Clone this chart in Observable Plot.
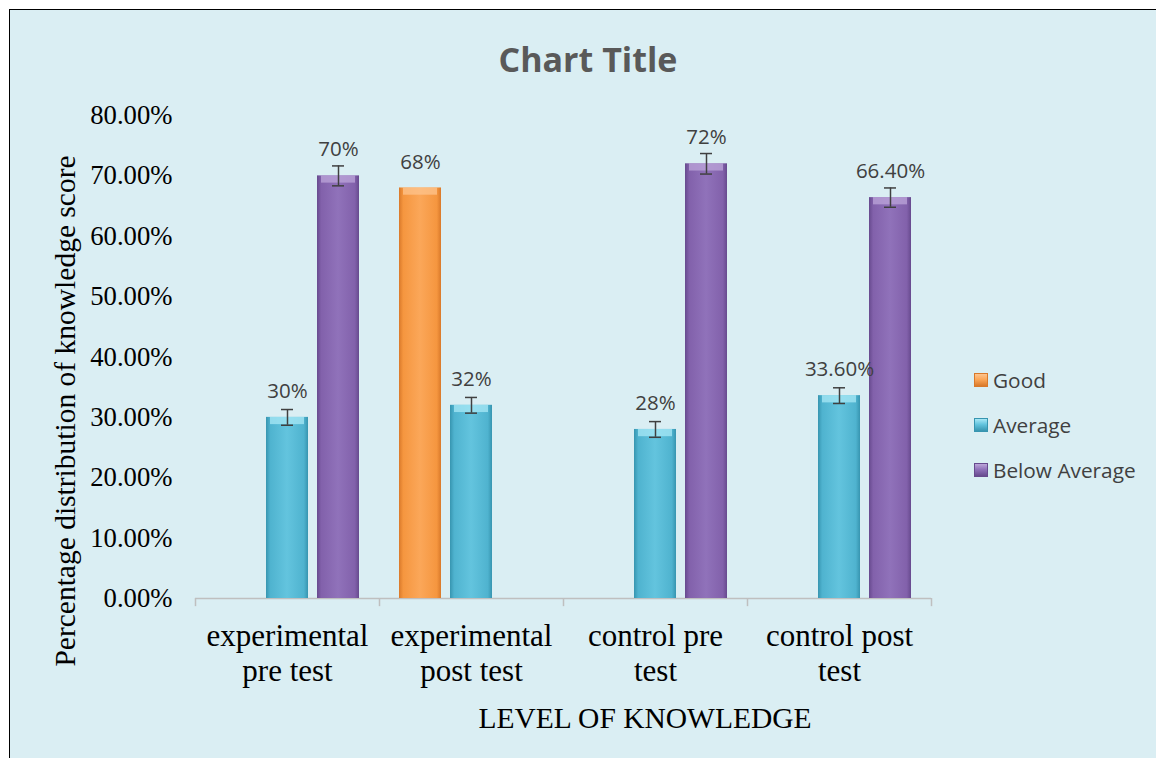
<!DOCTYPE html>
<html>
<head>
<meta charset="utf-8">
<script src="https://cdn.jsdelivr.net/npm/d3@7"></script>
<script src="https://cdn.jsdelivr.net/npm/@observablehq/plot@0.6"></script>
<style>
  html, body { margin: 0; padding: 0; overflow: hidden; background: #fff; }
  #frame { position: absolute; left: 9px; top: 9px; width: 1160px; height: 760px; box-sizing: border-box;
           border: 1.5px solid #000; background: #DAEEF3; }
  #plot { position: absolute; left: 0; top: 0; }
  .title { position: absolute; left: 588px; top: 59px; transform: translate(-50%, -50%);
           font-family: "Open Sans", sans-serif; font-weight: 700; font-size: 34px; color: #595959; white-space: nowrap; }
  .ytitle { position: absolute; left: 65px; top: 411px; transform: translate(-50%, -50%) rotate(-90deg);
            font-family: "Liberation Serif", serif; font-size: 29.5px; color: #000; white-space: nowrap; }
  .xtitle { position: absolute; left: 645px; top: 718px; transform: translate(-50%, -50%);
            font-family: "Liberation Serif", serif; font-size: 29.5px; color: #000; white-space: nowrap; }
  .legend { position: absolute; left: 974px; top: 0; font-family: "Open Sans", sans-serif; font-size: 20.8px; color: #404040; }
  .legend .row { position: absolute; left: 0; white-space: nowrap; display: flex; align-items: center; transform: translateY(-50%); }
  .legend .sw { width: 14px; height: 14px; margin-right: 5px; box-sizing: border-box; }
</style>
</head>
<body>
<div id="frame"></div>
<div id="plot"></div>
<div class="title">Chart Title</div>
<div class="ytitle">Percentage distribution of knowledge score</div>
<div class="xtitle">LEVEL OF KNOWLEDGE</div>
<div class="legend" id="legend"></div>
<script>
// ---- data ----
const categories = ["experimental pre test", "experimental post test", "control pre test", "control post test"];
const categoryTickLabels = ["experimental\npre test", "experimental\npost test", "control pre\ntest", "control post\ntest"];
const series = ["Good", "Average", "Below Average"];
const good = [null, 68, null, null];
const average = [30, 32, 28, 33.6];
const belowAverage = [70, null, 72, 66.4];
const goodErr = [null, null, null, null];
const averageErr = [1.3, 1.3, 1.3, 1.3];
const belowAverageErr = [1.65, null, 1.7, 1.6];
const goodLabels = [null, "68%", null, null];
const averageLabels = ["30%", "32%", "28%", "33.60%"];
const belowAverageLabels = ["70%", null, "72%", "66.40%"];
const yTicks = [0, 10, 20, 30, 40, 50, 60, 70, 80];

// ---- styles ----
const gradIds = {"Good": "gGood", "Average": "gAvg", "Below Average": "gBelow"};
const gradStops = {
  "Good": ["#D9792A", "#F5963F", "#FBA759", "#F5963F", "#D9792A"],
  "Average": ["#3795B0", "#4FB3CF", "#63C4DE", "#4FB3CF", "#3795B0"],
  "Below Average": ["#674A8E", "#8261AB", "#9072BA", "#8261AB", "#674A8E"]
};
const bevelColors = {"Good": "#FDC48E", "Average": "#A8E8F6", "Below Average": "#BCA6D9"};
const bevel = 1.2;

const valuesBySeries = {"Good": good, "Average": average, "Below Average": belowAverage};
const errBySeries = {"Good": goodErr, "Average": averageErr, "Below Average": belowAverageErr};
const labelsBySeries = {"Good": goodLabels, "Average": averageLabels, "Below Average": belowAverageLabels};

const rows = [];
categories.forEach((c, i) => {
  series.forEach(s => {
    const v = valuesBySeries[s][i];
    if (v != null) rows.push({category: c, series: s, value: v, err: errBySeries[s][i], label: labelsBySeries[s][i]});
  });
});
const errRows = rows.filter(d => d.err != null);
const tickLabelOf = Object.fromEntries(categories.map((c, i) => [c, categoryTickLabels[i]]));

const serif = "Liberation Serif, Times New Roman, serif";
const lineColor = "#BFBFBF";

const plot = Plot.plot({
  width: 1156,
  height: 758,
  marginLeft: 195,
  marginRight: 225,
  marginTop: 115,
  marginBottom: 160,
  style: {background: "transparent", color: "#000", overflow: "visible"},
  fx: {domain: categories, padding: 0, axis: null},
  x: {domain: series, paddingInner: 9 / 51, paddingOuter: 0.392, axis: null},
  y: {domain: [0, 80], axis: null},
  color: {type: "identity"},
  marks: [
    Plot.axisY({ticks: yTicks, tickFormat: d => d.toFixed(2) + "%", tickSize: 0, tickPadding: 23,
                fontSize: 26.7, fontFamily: serif, fill: "#000", label: null}),
    Plot.ruleY([0], {stroke: lineColor, strokeWidth: 1.5}),
    Plot.ruleX(categories, {fx: d => d, x: () => series[0], y1: 0, y2: -1.35, dx: -41, stroke: lineColor, strokeWidth: 1.5}),
    Plot.ruleX([categories[categories.length - 1]], {fx: d => d, x: () => series[series.length - 1], y1: 0, y2: -1.35, dx: 41, stroke: lineColor, strokeWidth: 1.5}),
    Plot.barY(rows, {fx: "category", x: "series", y: "value", fill: d => `url(#${gradIds[d.series]})`}),
    Plot.barY(rows, {fx: "category", x: "series", y1: d => d.value - bevel, y2: "value",
                     fill: d => bevelColors[d.series], fillOpacity: 0.75, insetLeft: 4, insetRight: 4}),
    Plot.ruleX(errRows, {fx: "category", x: "series", y1: d => d.value - d.err, y2: d => d.value + d.err, stroke: "#404040", strokeWidth: 1.5}),
    Plot.tickY(errRows, {fx: "category", x: "series", y: d => d.value + d.err, insetLeft: 15, insetRight: 15, stroke: "#404040", strokeWidth: 1.5}),
    Plot.tickY(errRows, {fx: "category", x: "series", y: d => d.value - d.err, insetLeft: 15, insetRight: 15, stroke: "#404040", strokeWidth: 1.5}),
    Plot.text(rows.filter(d => d.label), {fx: "category", x: "series", y: "value", text: "label", dy: -26,
                     fontSize: 20.5, fontFamily: "Open Sans, sans-serif", fill: "#404040"}),
    Plot.text(categories, {fx: d => d, text: d => tickLabelOf[d], frameAnchor: "bottom", lineAnchor: "top",
                     dy: 22, lineHeight: 1.15, fontSize: 31, fontFamily: serif, fill: "#000"})
  ]
});

// gradient defs
const defs = d3.select(plot).insert("defs", ":first-child");
series.forEach(s => {
  const g = defs.append("linearGradient").attr("id", gradIds[s]).attr("x1", 0).attr("x2", 1).attr("y1", 0).attr("y2", 0);
  [0, 0.1, 0.5, 0.9, 1].forEach((o, k) => g.append("stop").attr("offset", o).attr("stop-color", gradStops[s][k]));
});
document.getElementById("plot").appendChild(plot);

// legend
const legendRowsY = [380, 425, 470];
const legend = document.getElementById("legend");
series.forEach((s, i) => {
  const row = document.createElement("div");
  row.className = "row";
  row.style.top = legendRowsY[i] + "px";
  const sw = document.createElement("div");
  sw.className = "sw";
  const st = gradStops[s];
  sw.style.background = `linear-gradient(to bottom, ${bevelColors[s]} 0%, ${st[2]} 45%, ${st[0]} 100%)`;
  sw.style.border = `1px solid ${st[0]}`;
  const t = document.createElement("span");
  t.textContent = s;
  row.appendChild(sw); row.appendChild(t);
  legend.appendChild(row);
});
</script>
</body>
</html>
